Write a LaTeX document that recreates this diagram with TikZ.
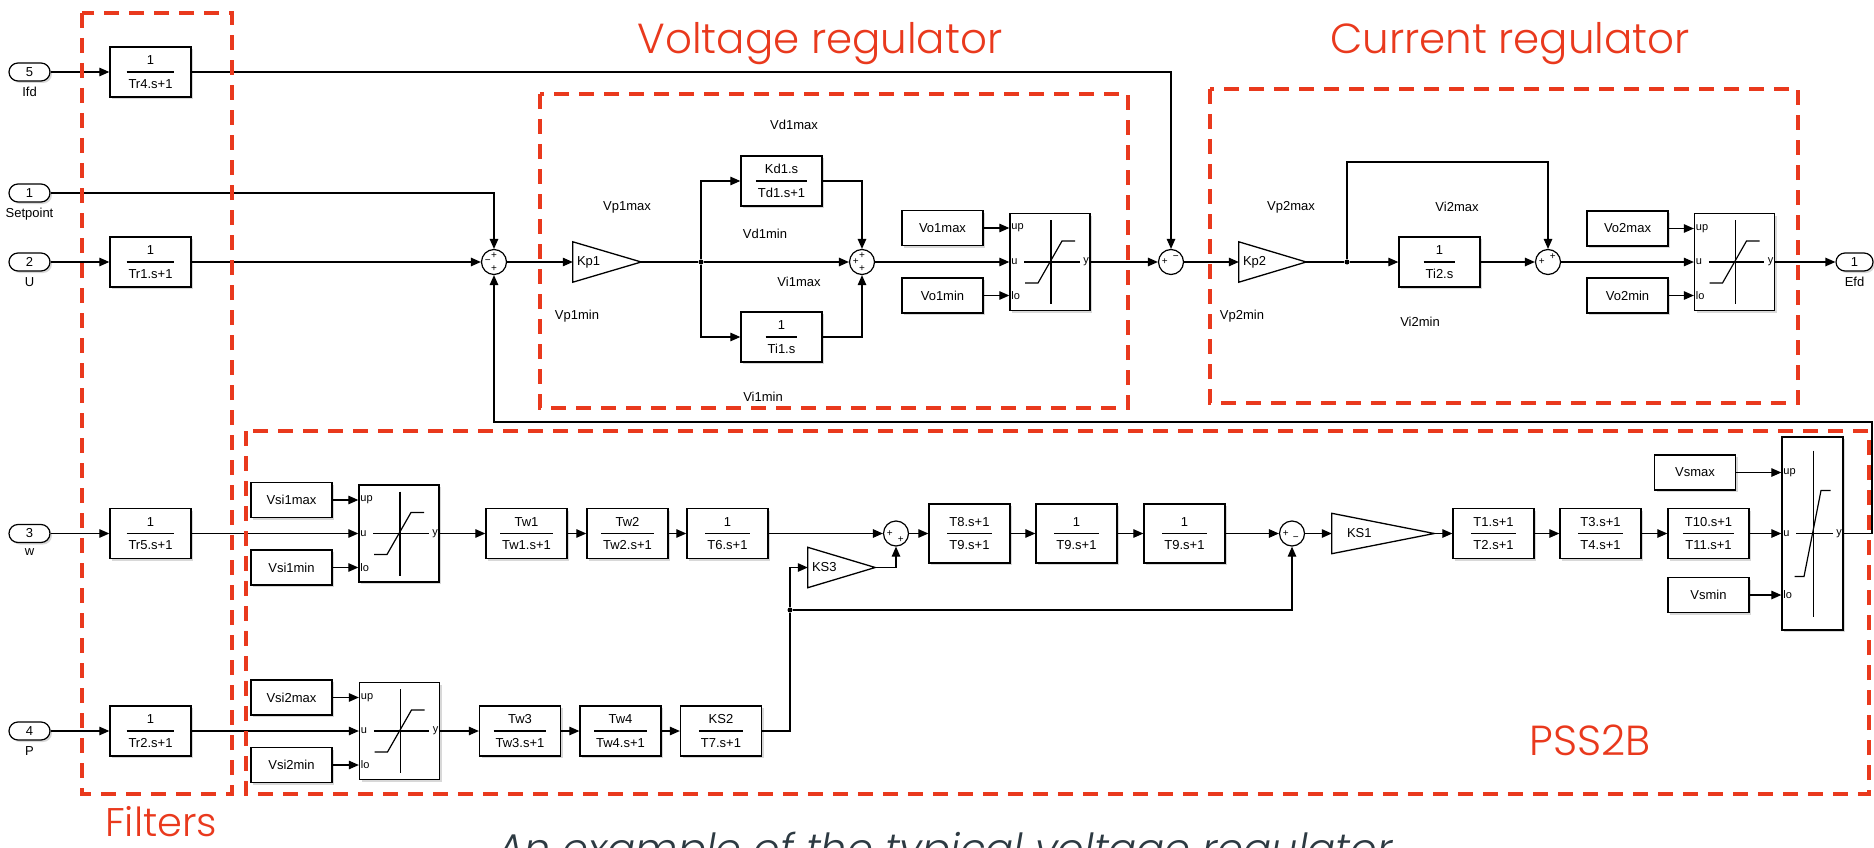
\documentclass[tikz,border=0pt]{standalone}
\usepackage{fontspec}
\setmainfont{Liberation Sans}
\newfontfamily\framefont{Poppins}[UprightFont=* Light,ItalicFont=* Light Italic]
\usetikzlibrary{arrows.meta,calc,positioning,shadows}

\definecolor{framered}{RGB}{233,57,29}
\definecolor{captiongray}{RGB}{45,58,66}

\setlength{\arrayrulewidth}{1.2pt}
\renewcommand{\arraystretch}{1.45}

% numerator over denominator, as in a transfer fcn block
\newcommand{\blkfrac}[2]{\begin{tabular}{@{\hspace{2pt}}c@{\hspace{2pt}}}#1\\\hline#2\end{tabular}}

% the inside of a saturation block
\newcommand{\satgraph}[5]{%
  \draw[line width=1.2pt] ($(#1.center)+(1,-#2)$) -- ($(#1.center)+(1,#2)$);
  \draw[line width=1.2pt] ($(#1.west)+(15,0)$) -- ($(#1.east)+(-11,0)$);
  \draw[line width=1.2pt] ($(#1.center)+(-#5,#3)$) -- ($(#1.center)+(-#4,#3)$)
    -- ($(#1.center)+(#4,-#3)$) -- ($(#1.center)+(#5,-#3)$);
  \node[plbl,left] at (#1.east) {y};
}

\tikzset{
  wire/.style={line width=1.2pt,-{Triangle[length=10pt,width=8.5pt]}},
  blk/.style={draw,fill=white,line width=1.3pt,minimum width=81pt,minimum height=50pt,inner sep=0pt,
    drop shadow={shadow xshift=2pt,shadow yshift=-2pt,fill=black!30}},
  cst/.style={blk,minimum height=35pt},
  sat/.style={blk,minimum width=80pt,minimum height=97pt},
  port/.style={draw,fill=white,line width=1.2pt,rounded corners=9pt,minimum width=41pt,
    minimum height=18pt,inner sep=0pt,drop shadow={shadow xshift=2pt,shadow yshift=-2pt,fill=black!30}},
  sum/.style={draw,fill=white,circle,line width=1.2pt,minimum size=25pt,inner sep=0pt},
  sg/.style={font=\fontsize{10}{10}\selectfont,inner sep=0pt,label distance=-10pt},
  gain/.style={minimum height=40pt,inner xsep=4pt,inner ysep=0pt,text width=#1,align=left},
  dot/.style={circle,fill,inner sep=0pt,minimum size=5pt},
  plbl/.style={font=\fontsize{11}{12}\selectfont,inner sep=1.5pt},
  frame/.style={draw=framered,line width=4.5pt,dash pattern=on 15pt off 10pt},
  redlbl/.style={text=framered,font=\framefont\fontsize{42}{50}\selectfont,inner sep=0pt},
}

\begin{document}
\begin{tikzpicture}[x=1pt,y=-1pt,every node/.style={font=\fontsize{13}{15.6}\selectfont}]
  \useasboundingbox (0,0) rectangle (1874,848);

  %% inputs and filters
  \node[port,label={[label distance=2pt]below:Ifd}] (in5) at (29.5,72) {5};
  \node[port,label={[label distance=2pt]below:Setpoint}] (in1) at (29.5,193) {1};
  \node[port,label={[label distance=2pt]below:U}] (in2) at (29.5,262) {2};
  \node[port,label={[label distance=2pt]below:w}] (in3) at (29.5,533.5) {3};
  \node[port,label={[label distance=2pt]below:P}] (in4) at (29.5,731) {4};

  \node[blk] (tr4) at (150.5,72) {\blkfrac{1}{Tr4.s+1}};
  \node[blk] (tr1) at (150.5,262) {\blkfrac{1}{Tr1.s+1}};
  \node[blk] (tr5) at (150.5,533.5) {\blkfrac{1}{Tr5.s+1}};
  \node[blk] (tr2) at (150.5,731) {\blkfrac{1}{Tr2.s+1}};

  \foreach \a/\b in {in5/tr4,in2/tr1,in3/tr5,in4/tr2}
    \draw[wire] (\a) -- (\b);

  %% voltage regulator
  \node[sum,label={[sg]90:+},label={[sg]180:−},label={[sg]270:+}] (sum1) at (494,262) {};
  \node[gain=60pt] (kp1) at (607,262) {Kp1};
  \node[dot] (d1) at (701,262) {};
  \node[blk] (kd1) at (781.5,181) {\blkfrac{Kd1.s}{Td1.s+1}};
  \node[blk] (ti1) at (781.5,337) {\blkfrac{1}{Ti1.s}};
  \node[sum,label={[sg]90:+},label={[sg]180:+},label={[sg]270:+}] (sum2) at (862,262) {};
  \node[cst] (vo1max) at (942.5,228) {Vo1max};
  \node[cst] (vo1min) at (942.5,295.5) {Vo1min};
  \node[sat] (satv1) at (1050,262) {};

  \node (vd1max) at (794,125) {Vd1max};
  \node (vp1max) at (627,207) {Vp1max};
  \node (vd1min) at (765,234) {Vd1min};
  \node (vi1max) at (799,282) {Vi1max};
  \node (vp1min) at (577,316) {Vp1min};
  \node (vi1min) at (763,397) {Vi1min};

  \draw[wire] (in1.east) -| (sum1.north);
  \draw[wire] (tr1) -- (sum1);
  \draw[wire] (sum1) -- (kp1);
  \draw[line width=1.2pt] (kp1.east) -- (d1);
  \draw[wire] (d1) -- (sum2);
  \draw[wire] (d1) |- (kd1);
  \draw[wire] (d1) |- (ti1);
  \draw[wire] (kd1) -| (sum2.north);
  \draw[wire] (ti1) -| (sum2.south);
  \draw[wire] (sum2) -- (satv1.west) node[plbl,right] {u};
  \draw[wire] (vo1max) -- (vo1max -| satv1.west) node[plbl,right] {up};
  \draw[wire] (vo1min) -- (vo1min -| satv1.west) node[plbl,right] {lo};

  %% current regulator
  \node[sum,label={[sg]180:+},label={[sg]55:−}] (sum5) at (1171,262) {};
  \node[gain=59pt] (kp2) at (1272.5,262) {Kp2};
  \node[dot] (d2) at (1347,262) {};
  \node[blk] (ti2) at (1439.5,262) {\blkfrac{1}{Ti2.s}};
  \node[sum,label={[sg]180:+},label={[sg]55:+}] (sum6) at (1548,262) {};
  \node[cst] (vo2max) at (1627.5,228.5) {Vo2max};
  \node[cst] (vo2min) at (1627.5,295.5) {Vo2min};
  \node[sat] (satv2) at (1734.5,262) {};
  \node[port,minimum width=37pt,label={[label distance=2pt]below:Efd}] (out1) at (1854.5,262) {1};

  \node (vp2max) at (1291,207) {Vp2max};
  \node (vi2max) at (1457,207) {Vi2max};
  \node (vp2min) at (1242,316) {Vp2min};
  \node (vi2min) at (1420,322) {Vi2min};

  \draw[wire] (satv1) -- (sum5);
  \draw[wire] (tr4.east) -| (sum5.north);
  \draw[wire] (sum5) -- (kp2);
  \draw[line width=1.2pt] (kp2.east) -- (d2);
  \draw[wire] (d2) -- (ti2);
  \draw[wire] (d2) -- ++(0,-100) -| (sum6.north);
  \draw[wire] (ti2) -- (sum6);
  \draw[wire] (sum6) -- (satv2.west) node[plbl,right] {u};
  \draw[wire] (vo2max) -- (vo2max -| satv2.west) node[plbl,right] {up};
  \draw[wire] (vo2min) -- (vo2min -| satv2.west) node[plbl,right] {lo};
  \draw[wire] (satv2) -- (out1);

  %% PSS2B, upper chain
  \node[cst] (vsi1max) at (291.5,500) {Vsi1max};
  \node[cst] (vsi1min) at (291.5,567.5) {Vsi1min};
  \node[sat] (sat1) at (399,533.5) {};
  \node[blk] (tw1) at (526.5,533.5) {\blkfrac{Tw1}{Tw1.s+1}};
  \node[blk] (tw2) at (627.5,533.5) {\blkfrac{Tw2}{Tw2.s+1}};
  \node[blk] (t6) at (727.5,533.5) {\blkfrac{1}{T6.s+1}};
  \node[sum,label={[sg]180:+},label={[sg]-55:+}] (sum3) at (896,533.5) {};
  \node[gain=59pt] (ks3) at (841.5,567.5) {KS3};
  \node[blk,minimum height=59pt] (t8) at (969.5,533.5) {\blkfrac{T8.s+1}{T9.s+1}};
  \node[blk,minimum height=59pt] (t9a) at (1076.5,533.5) {\blkfrac{1}{T9.s+1}};
  \node[blk,minimum height=59pt] (t9b) at (1184.5,533.5) {\blkfrac{1}{T9.s+1}};
  \node[sum,label={[sg]180:+},label={[sg]-80:−}] (sum4) at (1292,533.5) {};
  \node[gain=94pt] (ks1) at (1383,533.5) {\hspace{11pt}KS1};
  \node[blk] (t1) at (1493.5,533.5) {\blkfrac{T1.s+1}{T2.s+1}};
  \node[blk] (t3) at (1600.5,533.5) {\blkfrac{T3.s+1}{T4.s+1}};
  \node[blk] (t10) at (1708.5,533.5) {\blkfrac{T10.s+1}{T11.s+1}};
  \node[cst] (vsmax) at (1695,472.5) {Vsmax};
  \node[cst] (vsmin) at (1708.5,595) {Vsmin};
  \node[sat,minimum width=61pt,minimum height=193pt] (sat3) at (1812.5,533.5) {};

  %% PSS2B, lower chain
  \node[cst] (vsi2max) at (291.5,697.5) {Vsi2max};
  \node[cst] (vsi2min) at (291.5,765) {Vsi2min};
  \node[sat] (sat2) at (399.5,731) {};
  \node[blk] (tw3) at (520,731) {\blkfrac{Tw3}{Tw3.s+1}};
  \node[blk] (tw4) at (620.5,731) {\blkfrac{Tw4}{Tw4.s+1}};
  \node[blk] (ks2) at (721,731) {\blkfrac{KS2}{T7.s+1}};
  \node[dot] (tap) at (790,610) {};
  \coordinate (fb) at (1872,422);

  \draw[wire] (tr5) -- (sat1.west) node[plbl,right] {u};
  \draw[wire] (vsi1max) -- (vsi1max -| sat1.west) node[plbl,right] {up};
  \draw[wire] (vsi1min) -- (vsi1min -| sat1.west) node[plbl,right] {lo};
  \draw[wire] (tr2) -- (sat2.west) node[plbl,right] {u};
  \draw[wire] (vsi2max) -- (vsi2max -| sat2.west) node[plbl,right] {up};
  \draw[wire] (vsi2min) -- (vsi2min -| sat2.west) node[plbl,right] {lo};
  \draw[wire] (t10) -- (sat3.west) node[plbl,right] {u};
  \draw[wire] (vsmax) -- (vsmax -| sat3.west) node[plbl,right] {up};
  \draw[wire] (vsmin) -- (vsmin -| sat3.west) node[plbl,right] {lo};

  \foreach \a/\b in {sat1/tw1,tw1/tw2,tw2/t6,t6/sum3,sum3/t8,t8/t9a,t9a/t9b,t9b/sum4,
                     sum4/ks1,ks1/t1,t1/t3,t3/t10,sat2/tw3,tw3/tw4,tw4/ks2}
    \draw[wire] (\a) -- (\b);
  \draw[wire] (ks3.east) -| (sum3.south);
  \draw[line width=1.2pt] (ks2) -| (tap);
  \draw[wire] (tap) |- (ks3);
  \draw[wire] (tap) -| (sum4.south);
  \draw[wire] (sat3) -| (fb) -| (sum1.south);

  % gain triangles and limiter graphs
  \foreach \g in {kp1,kp2,ks3,ks1}
    \draw[line width=1.3pt] (\g.north west) -- (\g.east) -- (\g.south west) -- cycle;
  \satgraph{satv1}{42}{21}{12}{25}
  \satgraph{satv2}{42}{21}{12}{25}
  \satgraph{sat1}{42}{21}{12}{25}
  \satgraph{sat2}{42}{21}{12}{25}
  \satgraph{sat3}{83}{43}{8.5}{18}

  %% the red frames
  \draw[frame] (82,13) rectangle (232,794);
  \draw[frame] (540,94) rectangle (1128,408);
  \draw[frame] (1210,89) rectangle (1798,403);
  \draw[frame] (246,431) rectangle (1869,794);

  \node[redlbl] (vrtitle) at (820,44) {Voltage regulator};
  \node[redlbl] (crtitle) at (1510,44) {Current regulator};
  \node[redlbl] (psstitle) at (1590,740) {PSS2B};
  \node[redlbl,anchor=west,font=\framefont\fontsize{40}{48}\selectfont] (filttitle) at (105,822) {Filters};
  \node[anchor=north west,inner sep=0pt,text=captiongray,font=\framefont\itshape\fontsize{41.5}{49}\selectfont]
    (caption) at (497,832) {An example of the typical voltage regulator};
\end{tikzpicture}
\end{document}
